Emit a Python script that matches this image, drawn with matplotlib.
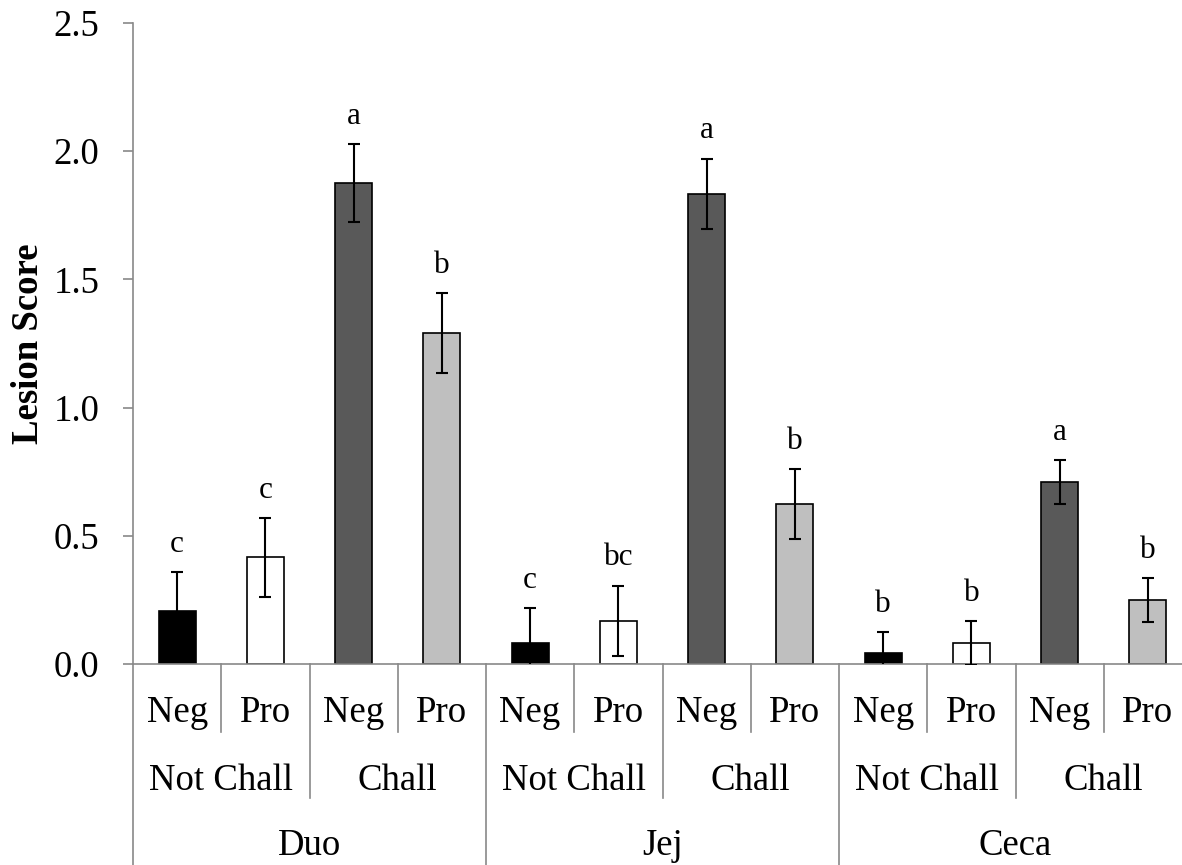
import numpy as np
import matplotlib
matplotlib.use('Agg')
import matplotlib.pyplot as plt
from matplotlib import transforms

plt.rcParams['font.family'] = ['Liberation Serif', 'DejaVu Serif']

# ---- data ----
segments = ['Duo', 'Jej', 'Ceca']
challenge = ['Not Chall', 'Chall']
treatment = ['Neg', 'Pro']

duo = [0.208, 0.416, 1.876, 1.291]
jej = [0.082, 0.168, 1.833, 0.624]
ceca = [0.043, 0.082, 0.710, 0.250]

duo_err = [0.150, 0.153, 0.153, 0.156]
jej_err = [0.136, 0.138, 0.138, 0.137]
ceca_err = [0.083, 0.086, 0.086, 0.086]

duo_let = ['c', 'c', 'a', 'b']
jej_let = ['c', 'bc', 'a', 'b']
ceca_let = ['b', 'b', 'a', 'b']

colours = ['#000000', '#FFFFFF', '#595959', '#BFBFBF']

values = duo + jej + ceca
errors = duo_err + jej_err + ceca_err
letters = duo_let + jej_let + ceca_let
x = np.arange(len(values))

grey = '#898989'
fs = 26.5

fig = plt.figure(figsize=(11.82, 8.65), dpi=100)
# axes runs a little past the right edge, like the original crop
ax = fig.add_axes([133/1182, 1-664/865, 1059/1182, 641/865])

ax.bar(x, values, width=0.42, color=colours*3, edgecolor='black', linewidth=1.2, zorder=2)
ax.errorbar(x, values, yerr=errors, fmt='none', ecolor='black', elinewidth=1.5,
            capsize=4.5, capthick=1.5, zorder=3)

for xi, v, e, l in zip(x, values, errors, letters):
    ax.annotate(l, (xi, v+e), xytext=(0, 14.5), textcoords='offset points',
                ha='center', va='baseline', fontsize=22.5)

ax.set_xlim(-0.5, len(values)-0.5)
ax.set_ylim(0, 2.5)
ax.set_yticks(np.arange(0, 2.51, 0.5))
ax.set_yticklabels(['%.1f' % t for t in np.arange(0, 2.51, 0.5)], fontsize=fs)
ax.tick_params(axis='y', direction='out', length=7.2, width=1.2, color=grey, pad=17)
ax.set_xticks([])

for s in ['top', 'right']:
    ax.spines[s].set_visible(False)
for s in ['left', 'bottom']:
    ax.spines[s].set_color(grey)
    ax.spines[s].set_linewidth(1.2)

# multi level category axis
tr = transforms.blended_transform_factory(ax.transData, ax.transAxes)
h = 641.0
y1 = -68/h
y2 = -134/h
y3 = -220/h

for k in range(len(values)+1):
    b = k - 0.5
    if k % 4 == 0:
        yb = y3
    elif k % 2 == 0:
        yb = y2
    else:
        yb = y1
    ax.plot([b, b], [0, yb], transform=tr, color=grey, lw=1.2, clip_on=False)

for i in range(len(values)):
    ax.text(x[i], -49/h, treatment[i % 2], transform=tr, ha='center', va='center', fontsize=fs)
for j in range(len(values)//2):
    ax.text(2*j+0.5, -117/h, challenge[j % 2], transform=tr, ha='center', va='center', fontsize=fs)
for g, name in enumerate(segments):
    ax.text(4*g+1.5, -182/h, name, transform=tr, ha='center', va='center', fontsize=fs)

fig.text(29/1182, 1-344/865, 'Lesion Score', rotation=90, ha='center', va='center',
         fontsize=fs, fontweight='bold')

fig.savefig('out.png', dpi=100)
